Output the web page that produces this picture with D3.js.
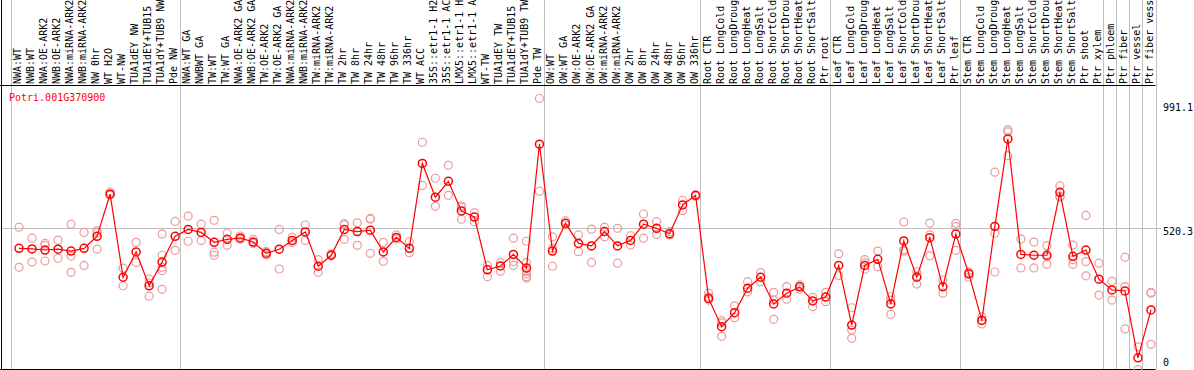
<!DOCTYPE html>
<html>
<head>
<meta charset="utf-8">
<script src="https://cdn.jsdelivr.net/npm/d3@7"></script>
<style>
  html, body { margin: 0; padding: 0; background: #fff; overflow: hidden; }
  svg { display: block; }
  text { font-family: "DejaVu Sans Mono", monospace; font-size: 10px; }
</style>
</head>
<body>
<svg id="chart" width="1194" height="370"></svg>
<script>
const title = "Potri.001G370900";

const categories = [
  "NWA:WT","NWB:WT","NWA:OE-ARK2","NWB:OE-ARK2","NWA:miRNA-ARK2","NWB:miRNA-ARK2","NW 0hr","WT H2O","WT-NW","TUA1dEY NW","TUA1dEY+TUB15","TUA1dY+TUB9 NW","Pde NW",
  "NWA:WT GA","NWBWT GA","TW:WT","TW:WT GA","NWA:OE-ARK2 GA","NWB:OE-ARK2 GA","TW:OE-ARK2","TW:OE-ARK2 GA","NWA:miRNA-ARK2","NWB:miRNA-ARK2","TW:miRNA-ARK2","TW:miRNA-ARK2",
  "TW 2hr","TW 8hr","TW 24hr","TW 48hr","TW 96hr","TW 336hr","WT ACC","35S::etr1-1 H2","35S::etr1-1 AC","LMX5::etr1-1 H","LMX5::etr1-1 A","WT-TW","TUA1dEY TW","TUA1dEY+TUB15","TUA1dY+TUB9 TW","Pde TW",
  "OW:WT","OW:WT GA","OW:OE-ARK2","OW:OE-ARK2 GA","OW:miRNA-ARK2","OW:miRNA-ARK2","OW 2hr","OW 8hr","OW 24hr","OW 48hr","OW 96hr","OW 336hr",
  "Root CTR","Root LongCold","Root LongDroug","Root LongHeat","Root LongSalt","Root ShortCold","Root ShortDrou","Root ShortHeat","Root ShortSalt","Ptr root",
  "Leaf CTR","Leaf LongCold","Leaf LongDroug","Leaf LongHeat","Leaf LongSalt","Leaf ShortCold","Leaf ShortDrou","Leaf ShortHeat","Leaf ShortSalt","Ptr leaf",
  "Stem CTR","Stem LongCold","Stem LongDroug","Stem LongHeat","Stem LongSalt","Stem ShortCold","Stem ShortDrou","Stem ShortHeat","Stem ShortSalt","Ptr shoot","Ptr xylem",
  "Ptr phloem","Ptr fiber","Ptr vessel","Ptr fiber vess"
];

const means = [
  446,444,440,443,436,446,490,643,341,433,310,396,490,
  515,504,468,479,484,469,428,443,475,506,381,421,515,507,512,433,486,446,755,632,690,582,560,368,382,424,375,825,
  436,537,464,455,507,455,475,534,519,499,604,639,
  264,161,212,301,341,244,283,306,255,269,
  384,167,384,406,244,473,341,485,306,498,
  353,184,526,844,424,421,421,650,417,440,334,295,291,48,222
];

const replicates = [
  [523,377],[483,396],[464,457,400],[476,410],[534,418,359],[504,384],[510,503,443],[651,640,644],[374,310],[468,395],[334,320,272],[498,421,377,365,297],[544,439],
  [563,472],[534,475],[548,432,421],[501,457],[491,479],[479,464],[434,422],[515,371],[486,467],[531,475],[405,359],[426,419],
  [536,531,479],[539,457],[555,552,428],[468,399],[495,480],[470,430],[832,675],[701,599],[748,639],[601,596,552],[575,543],[384,343],[394,363],[483,398,384],[472,394,361,353,343,338],[991.1,654],
  [488,446,381],[546,531],[495,434],[516,395],[523,488],[519,392],[492,458],[571,483],[543,497],[507,495],[621,583],[640,636],
  [283,258,269],[183,175,126],[237,194],[325,288],[358,325],[286,258,188],[307,261],[313,298],[268,234],[286,252],
  [426,347],[230,149,119],[405,393,370],[436,379],[270,258,206],[542,441,436],[361,345,316],[538,495,419],[331,283],[537,525,439],
  [358,360,341],[197,185,171],[723,501,360],[877,870,783],[480,375],[469,375],[456,415,388],[673,636,633],[458,405,388],[566,398,346],[392,276],
  [326,258],[414,307,153],[88,5],[286,283,97]
];

const groupBoundaries = [0,13,41,53,63,73,84,85,86,87,88];
const yTickValues = [0, 520.3, 991.1];
const yGridValues = [520.3];

const svg = d3.select("#chart");
const W = 1194, H = 370;
const headerY = 85.5, bottomY = 369.5, plotRight = 1155.5;

const xCol = d3.scaleLinear().domain([0, categories.length]).range([10.5, 1155.5]);
const xPt = i => xCol(i) + 8.5;
const y = d3.scaleLinear().domain([0, 991.1]).range([371, 98.5]);

// vertical group grid lines
svg.append("g").selectAll("line").data(groupBoundaries).join("line")
  .attr("x1", d => Math.round(xCol(d)) + 0.5).attr("x2", d => Math.round(xCol(d)) + 0.5)
  .attr("y1", 0).attr("y2", bottomY)
  .attr("stroke", "#c0c0c0").attr("stroke-width", 1);

// horizontal grid line
svg.append("g").selectAll("line").data(yGridValues).join("line")
  .attr("x1", 1).attr("x2", 1161)
  .attr("y1", d => Math.round(y(d)) + 0.5).attr("y2", d => Math.round(y(d)) + 0.5)
  .attr("stroke", "#c0c0c0").attr("stroke-width", 1);

// frame lines
svg.append("line").attr("x1", 0).attr("x2", plotRight).attr("y1", headerY).attr("y2", headerY)
  .attr("stroke", "#000").attr("stroke-width", 1);
svg.append("line").attr("x1", 0).attr("x2", plotRight).attr("y1", bottomY).attr("y2", bottomY)
  .attr("stroke", "#000").attr("stroke-width", 1);
svg.append("line").attr("x1", 1.5).attr("x2", 1.5).attr("y1", 0).attr("y2", H)
  .attr("stroke", "#000").attr("stroke-width", 1);

// category labels (rotated)
svg.append("g").selectAll("text").data(categories).join("text")
  .attr("transform", (d, i) => `translate(${xCol(i) + 10.5},84) rotate(-90)`)
  .attr("text-anchor", "start")
  .attr("fill", "#000")
  .text(d => d);

// title
svg.append("text").attr("x", 9).attr("y", 101).attr("fill", "#ff0000").text(title);

// right axis labels
const tickOffset = v => v === 0 ? -5 : (v === d3.max(yTickValues) ? 12 : 7.5);
svg.append("g").selectAll("text").data(yTickValues).join("text")
  .attr("x", 1163)
  .attr("y", d => Math.min(y(d), 371) + tickOffset(d))
  .attr("fill", "#000")
  .text(d => d3.format("")(d));

// clip for data
svg.append("clipPath").attr("id", "plotclip").append("rect")
  .attr("x", 2).attr("y", 86).attr("width", 1160).attr("height", 284);
const plot = svg.append("g").attr("clip-path", "url(#plotclip)");

// replicate points
const repPts = [];
replicates.forEach((arr, i) => arr.forEach(v => repPts.push({i, v})));
plot.append("g").selectAll("circle").data(repPts).join("circle")
  .attr("cx", d => xPt(d.i)).attr("cy", d => y(d.v)).attr("r", 4)
  .attr("fill", "none").attr("stroke", "#ec9a9a").attr("stroke-width", 1.2);

// mean line
plot.append("path").datum(means)
  .attr("d", d3.line().x((d, i) => xPt(i)).y(d => y(d)))
  .attr("fill", "none").attr("stroke", "#ff0000").attr("stroke-width", 1.2);

// mean points
plot.append("g").selectAll("circle").data(means).join("circle")
  .attr("cx", (d, i) => xPt(i)).attr("cy", d => y(d)).attr("r", 4)
  .attr("fill", "none").attr("stroke", "#ff0000").attr("stroke-width", 1.5);
</script>
</body>
</html>
